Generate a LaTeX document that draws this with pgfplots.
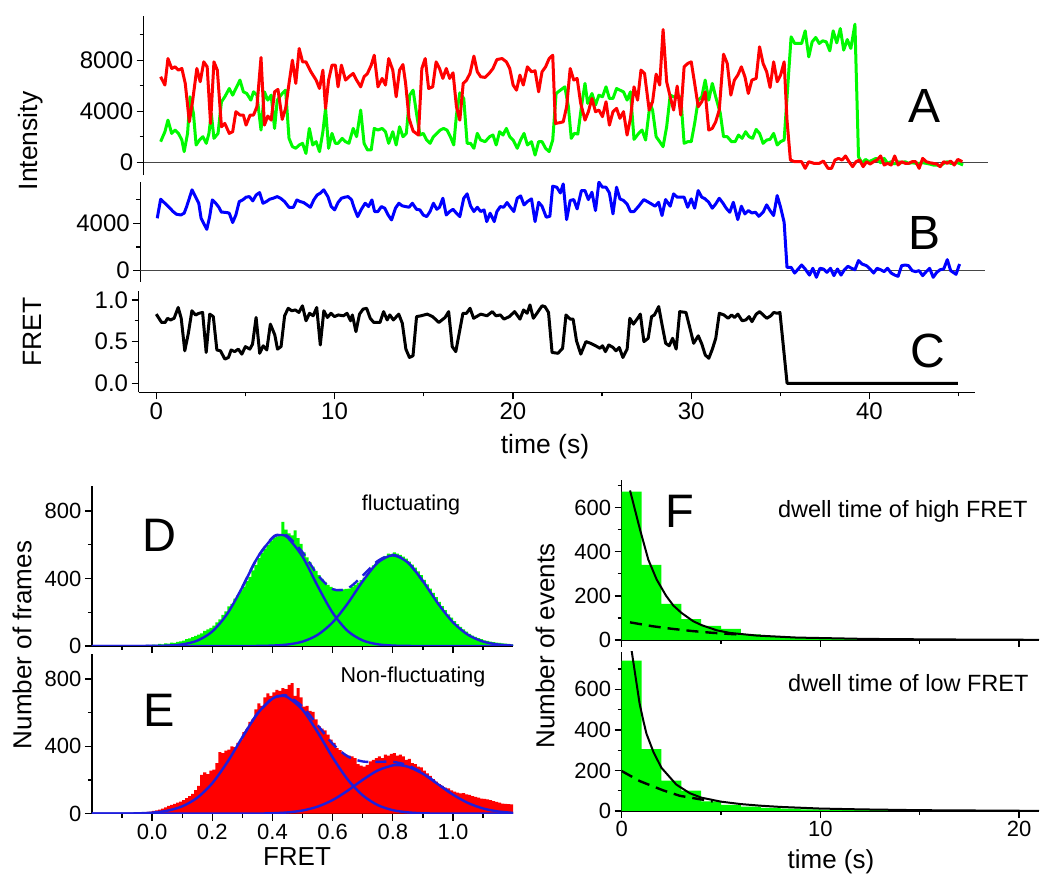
\documentclass[border=0pt]{standalone}
\usepackage{fontspec}
\setmainfont{Liberation Sans}
\usepackage{pgfplots}
\pgfplotsset{compat=1.18}
\definecolor{tgreen}{RGB}{0,250,0}
\definecolor{tred}{RGB}{255,0,0}
\definecolor{tblue}{RGB}{0,0,255}
\definecolor{gblue}{RGB}{30,30,220}
\definecolor{zline}{RGB}{70,70,70}
\pgfplotsset{
  panel/.style={
    scale only axis, anchor=south west,
    axis line style={line width=1.4pt, black},
    tick style={line width=1.3pt, black},
    major tick length=7pt, minor tick length=4pt,
    tick align=outside,
    tick label style={font=\fontsize{22}{26}\selectfont},
    /pgf/number format/assume math mode=true,
    /pgf/number format/1000 sep={},
    scaled ticks=false,
  },
  bigticks/.style={tick label style={font=\fontsize{24}{28}\selectfont}},
  trace/.style={line width=3pt, line join=round},
}
\begin{document}
\begin{tikzpicture}[x=1pt,y=1pt]
\useasboundingbox (0,0) rectangle (1050,885);

% ---------------- A: donor / acceptor intensity
\begin{axis}[panel, bigticks, at={(143.7pt,709.9pt)}, width=844.6pt, height=159.4pt,
  xmin=-0.70, xmax=46.67, ymin=-1000, ymax=11500,
  axis y line*=left, axis x line=none,
  ytick={0,4000,8000}, minor ytick={2000,6000,10000}]
\addplot[zline, line width=1.1pt] coordinates {(-0.70,0) (46.67,0)};
\addplot[trace, tgreen] coordinates {
(0.25,1620) (0.49,2400) (0.66,3310) (0.87,2270) (1.06,2530) (1.25,2270) (1.44,1750) (1.57,840) (1.76,2270) (1.90,5140)
(2.09,3840) (2.24,1360) (2.43,1750) (2.62,2010) (2.81,1490) (2.96,2270) (3.09,3840) (3.24,1880) (3.47,2270) (3.66,4750)
(3.85,5140) (4.10,5790) (4.29,5270) (4.47,5790) (4.70,6450) (4.89,5530) (5.08,5400) (5.31,4880) (5.46,5530) (5.65,5270)
(5.88,2530) (6.07,5530) (6.26,4880) (6.45,5270) (6.64,2660) (6.79,4880) (7.07,5400) (7.26,5660) (7.45,1880) (7.64,1230)
(7.83,1100) (8.02,1360) (8.21,1490) (8.40,700) (8.59,2660) (8.78,1360) (8.97,1620) (9.16,840) (9.35,2400) (9.50,4230)
(9.67,1100) (9.86,2270) (10.05,1490) (10.20,1490) (10.43,1880) (10.62,1620) (10.81,1490) (11.05,2660) (11.24,2010) (11.47,4100)
(11.66,1490) (11.85,970) (12.06,970) (12.23,2660) (12.44,2530) (12.67,2660) (12.86,2400) (13.04,1490) (13.27,2400) (13.46,1360)
(13.65,2790) (13.84,2010) (14.03,2270) (14.22,5270) (14.41,5660) (14.60,3840) (14.79,2140) (14.98,2270) (15.17,1750) (15.36,1490)
(15.55,2010) (15.74,2270) (15.93,2530) (16.12,2660) (16.31,2530) (16.50,2010) (16.69,1360) (16.84,3710) (17.03,5450) (17.25,5010)
(17.44,1490) (17.63,1490) (17.82,1100) (18.01,2270) (18.20,1750) (18.45,1620) (18.70,2010) (18.89,2140) (19.07,1360) (19.26,2400)
(19.45,2140) (19.64,2660) (19.83,2010) (20.02,1750) (20.25,1100) (20.44,1750) (20.63,2270) (20.82,1360)
(21.05,1620) (21.25,570) (21.45,1620) (21.64,1620) (21.84,1100) (22.04,840) (22.24,1750) (22.43,5400) (22.67,5660) (22.92,5920)
(23.12,4360) (23.28,1880) (23.45,2270) (23.65,2220) (23.85,4360) (24.05,6190) (24.20,4620) (24.44,5400) (24.64,4490) (24.83,5270)
(25.03,5140) (25.23,5920) (25.42,5010) (25.62,5010) (25.82,5790) (26.01,5660) (26.21,5530) (26.41,4880) (26.60,5530) (26.80,1800)
(27.06,2270) (27.25,2530) (27.45,1750) (27.70,4620) (27.84,4100) (28.04,2010) (28.24,1620) (28.43,1230) (28.63,2790) (28.83,5270)
(29.02,5140) (29.22,5090) (29.42,5140) (29.61,1490) (29.81,1620) (30.01,1620) (30.20,3050) (30.40,4880) (30.60,5140) (30.79,6450)
(30.99,4880) (31.19,6190) (31.38,5140) (31.64,3840) (31.82,2010) (32.03,2010) (32.27,1620) (32.47,1620) (32.66,2140) (32.86,1880)
(33.06,2400) (33.25,2010) (33.45,1880) (33.65,2580) (33.84,2270) (34.04,1490) (34.24,1750) (34.43,1800) (34.63,2270) (34.83,1360)
(35.02,1620) (35.22,1750) (35.61,9840) (35.81,9320) (36.01,9320) (36.20,9320) (36.40,10310) (36.60,8270) (36.79,9450) (36.99,9790)
(37.19,9320) (37.38,9530) (37.58,9450) (37.78,8740) (37.97,10310) (38.17,9370) (38.37,10490) (38.56,8800) (38.76,9630) (38.96,8930)
(39.19,10830) (39.39,440) (39.59,-80) (39.78,230) (39.98,50) (40.18,180) (40.37,310) (40.63,-30) (40.83,310) (41.02,-80)
(41.22,50) (41.42,-130) (41.61,50) (41.81,-30) (42.01,50) (42.20,-80) (42.40,-30) (42.60,-80) (42.79,-80) (42.99,-30)
(43.19,-80) (43.38,-130) (43.58,-210) (43.78,-210) (43.97,-290) (44.17,-80) (44.37,50) (44.56,-80) (44.76,-80) (44.96,-30) (45.25,-210)
};
\addplot[trace, tred] coordinates {
(0.25,6710) (0.49,6060) (0.66,8140) (0.87,7360) (1.06,7490) (1.25,7230) (1.44,7360) (1.63,6190) (1.86,3180) (2.05,4880)
(2.28,7360) (2.47,6320) (2.67,7880) (2.86,7490) (3.05,3050) (3.24,7880) (3.43,7230) (3.66,2790) (3.85,3050) (4.10,2270)
(4.29,2400) (4.47,3970) (4.70,3710) (4.89,3710) (5.04,2920) (5.27,3710) (5.46,3710) (5.65,4360) (5.88,8220) (6.07,2920)
(6.26,3630) (6.45,3310) (6.64,5530) (6.83,5720) (7.07,3370) (7.26,4230) (7.45,6190) (7.64,8010) (7.83,6190) (8.02,8930)
(8.21,7880) (8.40,7880) (8.68,7100) (8.97,6450) (9.16,5790) (9.35,7230) (9.50,4230) (9.67,6450) (9.86,7620) (10.05,7620)
(10.20,5920) (10.39,7620) (10.62,6450) (10.81,6710) (11.05,6970) (11.24,6450) (11.47,5920) (11.66,6710) (11.85,6970) (12.06,7620)
(12.23,8400) (12.44,5920) (12.67,6580) (12.86,6060) (13.04,8140) (13.27,7230) (13.46,5140) (13.65,7230) (13.84,7670) (13.99,6190)
(14.18,3450) (14.41,2450) (14.71,2140) (14.90,7360) (15.09,8140) (15.28,5790) (15.51,5920) (15.70,7880) (15.89,7360) (16.08,6580)
(16.27,7360) (16.46,6580) (16.65,7020) (16.84,4360) (17.03,3310) (17.22,6190) (17.41,6450) (17.60,6970) (17.82,8330) (18.01,7100)
(18.20,6710) (18.45,6660) (18.70,7020) (18.89,7360) (19.11,8060) (19.40,8140) (19.64,7880) (19.83,7360) (20.02,6060) (20.21,5660)
(20.40,6840) (20.59,6060) (20.82,7490)
(21.05,7100) (21.25,7180) (21.45,5530) (21.64,7100) (21.84,7490) (22.04,8140) (22.24,8400) (22.39,3050) (22.63,3110) (22.83,3180)
(23.02,4360) (23.22,7360) (23.42,6450) (23.61,6580) (23.81,4620) (24.05,3310) (24.24,3970) (24.44,5010) (24.64,3970) (24.83,4100)
(25.03,3580) (25.23,4750) (25.42,2920) (25.62,3970) (25.82,4230) (26.01,3450) (26.21,3970) (26.41,2140) (26.60,3450) (26.80,5920)
(27.00,4880) (27.19,7230) (27.39,6970) (27.65,4100) (27.84,4750) (28.04,6920) (28.24,6060) (28.43,10410) (28.63,6320) (28.83,5140)
(29.02,4100) (29.22,5980) (29.42,3710) (29.61,7490) (29.81,7750) (30.01,7880) (30.20,6190) (30.40,4360) (30.60,4750) (30.79,5530)
(30.99,2530) (31.19,2660) (31.38,3180) (31.58,4100) (31.82,8480) (32.03,7750) (32.23,5270) (32.43,6450) (32.62,6840) (32.82,7490)
(33.02,6710) (33.21,5400) (33.41,6450) (33.65,6580) (33.84,9060) (34.04,7750) (34.24,7100) (34.43,5870) (34.63,7880) (34.83,6320)
(35.02,6840) (35.22,7880) (35.38,3310) (35.57,180) (35.81,50) (36.20,50) (36.40,-470) (36.60,50) (36.89,-80) (37.19,-80)
(37.42,100) (37.68,-470) (37.88,-470) (38.07,180) (38.27,310) (38.47,180) (38.66,500) (38.86,50) (39.06,-340) (39.25,50)
(39.45,180) (39.65,-340) (39.84,50) (40.04,-130) (40.24,50) (40.43,180) (40.63,500) (40.83,-210) (41.02,-80) (41.22,-210)
(41.42,500) (41.61,-210) (41.81,50) (42.01,-80) (42.20,-80) (42.40,50) (42.60,50) (42.79,-470) (42.99,310) (43.19,50)
(43.38,-30) (43.58,-80) (43.78,-130) (43.97,-340) (44.17,50) (44.37,-80) (44.56,100) (44.76,-210) (44.96,230) (45.21,50)
};
\end{axis}

% ---------------- B: total intensity
\begin{axis}[panel, bigticks, at={(140.3pt,603.3pt)}, width=844.6pt, height=99.9pt,
  xmin=-0.89, xmax=46.48, ymin=-930, ymax=7500,
  axis y line*=left, axis x line=none,
  ytick={0,4000}, minor ytick={2000,6000}]
\addplot[zline, line width=1.1pt] coordinates {(-0.89,0) (46.48,0)};
\addplot[trace, tblue] coordinates {
(0.06,4420) (0.25,6030) (0.49,5690) (0.72,5350) (0.95,4990) (1.14,4760) (1.38,4700) (1.57,4850) (1.71,5410) (1.86,6110)
(2.01,6820) (2.20,6250) (2.39,5690) (2.52,4420) (2.71,3860) (2.84,3490) (3.00,4560) (3.15,5970) (3.34,5690) (3.53,5320)
(3.66,4930) (3.79,4930) (3.98,4900) (4.10,4850) (4.29,4060) (4.47,4700) (4.66,5830) (4.85,5970) (5.04,6200) (5.23,6250)
(5.42,5890) (5.61,6390) (5.80,6590) (5.99,5690) (6.18,5830) (6.37,6030) (6.56,6110) (6.79,6250) (6.98,6110) (7.20,5830)
(7.45,5350) (7.70,5350) (7.89,5970) (8.08,5830) (8.27,5750) (8.46,5550) (8.65,5350) (8.84,5970) (9.03,6390) (9.21,6540)
(9.40,6820) (9.63,6250) (9.82,5410) (10.01,5130) (10.20,5750) (10.39,6110) (10.58,6200) (10.77,6250) (10.96,5970) (11.11,5270)
(11.30,4560) (11.49,5130) (11.72,5690) (11.91,5410) (12.10,5970) (12.25,4990) (12.44,4990) (12.63,5410) (12.82,5270) (13.01,4700)
(13.20,4280) (13.42,5270) (13.61,5690) (13.80,5470) (13.99,5410) (14.18,5350) (14.37,5690) (14.60,5180) (14.79,5130) (14.98,4700)
(15.17,4560) (15.36,4990) (15.55,5690) (15.74,5180) (15.89,5350) (16.08,6110) (16.27,4700) (16.46,4990) (16.65,5180) (16.84,4850)
(17.03,4560) (17.25,6110) (17.44,6480) (17.63,5470) (17.82,4990) (18.01,5350) (18.20,4990) (18.39,5130) (18.54,4140) (18.73,4850)
(18.96,4140) (19.11,4990) (19.30,5410) (19.49,5350) (19.68,5750) (19.87,5350) (20.06,4990) (20.25,6110) (20.44,6310) (20.63,5550)
(20.82,5830)
(21.05,6060) (21.25,4140) (21.45,5770) (21.64,5440) (21.88,4510) (22.08,4590) (22.24,7130) (22.47,7040) (22.67,6560) (22.83,7320)
(23.02,4310) (23.22,5920) (23.42,6000) (23.61,5210) (23.85,6760) (24.05,6760) (24.24,6000) (24.44,6620) (24.64,5070) (24.83,7470)
(25.03,7040) (25.23,7040) (25.42,6560) (25.62,4790) (25.82,7040) (26.01,6060) (26.21,5920) (26.41,5630) (26.60,4990) (26.80,4990)
(27.06,5440) (27.35,6000) (27.55,5830) (27.78,5630) (27.98,5440) (28.18,5770) (28.37,4650) (28.57,6000) (28.83,5440) (29.02,6480)
(29.22,6200) (29.42,6200) (29.61,6200) (29.81,5350) (30.01,6060) (30.20,5270) (30.40,6760) (30.60,6200) (30.79,6060) (30.99,5770)
(31.19,5270) (31.38,5630) (31.58,6110) (31.78,5720) (31.97,5270) (32.17,4930) (32.37,5770) (32.62,4310) (32.82,5440) (33.02,4790)
(33.21,5070) (33.41,4870) (33.61,4930) (33.80,4590) (34.04,4930) (34.24,5550) (34.43,5070) (34.63,4650) (34.83,6340) (35.02,5350)
(35.22,4080) (35.38,280) (35.61,280) (35.81,-200) (36.01,140) (36.20,480) (36.40,140) (36.64,-370) (36.83,200) (37.03,-560)
(37.23,200) (37.42,140) (37.62,-140) (37.82,200) (38.01,-420) (38.21,140) (38.41,-370) (38.60,80) (38.80,370) (39.00,200)
(39.19,80) (39.39,850) (39.59,560) (39.84,420) (40.04,140) (40.24,-200) (40.43,200) (40.63,80) (40.83,-80) (41.02,200)
(41.22,-200) (41.42,-370) (41.61,-480) (41.81,420) (42.01,480) (42.20,420) (42.40,0) (42.60,-80) (42.79,0) (42.99,-420)
(43.19,-80) (43.38,200) (43.58,-560) (43.78,-140) (43.97,80) (44.17,140) (44.37,930) (44.56,0) (44.76,-200) (44.86,-310) (45.06,560)
};
\end{axis}

% ---------------- C: FRET trace
\begin{axis}[panel, bigticks, at={(138.6pt,492.7pt)}, width=836.4pt, height=101.5pt,
  xmin=-0.99, xmax=45.92, ymin=-0.108, ymax=1.11,
  axis lines*=left,
  xtick={0,10,20,30,40}, minor xtick={5,15,25,35,45},
  ytick={0,0.5,1}, minor ytick={0.25,0.75},
  yticklabel style={/pgf/number format/.cd, fixed, fixed zerofill, precision=1}]
\addplot[trace, black] coordinates {
(0,0.83) (0.15,0.78) (0.3,0.73) (0.5,0.73) (0.63,0.78) (0.8,0.76) (1.0,0.78) (1.23,0.91) (1.4,0.78) (1.6,0.39)
(1.8,0.6) (2.0,0.87) (2.2,0.82) (2.4,0.84) (2.6,0.85) (2.8,0.37) (3.0,0.83) (3.2,0.8) (3.4,0.4) (3.6,0.39)
(3.85,0.29) (4.05,0.31) (4.2,0.4) (4.4,0.38) (4.6,0.41) (4.8,0.35) (5.0,0.44) (5.25,0.41) (5.4,0.47) (5.6,0.79)
(5.8,0.36) (6.0,0.45) (6.2,0.4) (6.4,0.71) (6.65,0.58) (6.8,0.41) (7.0,0.44) (7.2,0.81) (7.4,0.9) (7.6,0.87)
(7.8,0.88) (8.0,0.85) (8.2,0.93) (8.4,0.75) (8.6,0.84) (8.8,0.81) (9.0,0.91) (9.2,0.46) (9.4,0.87) (9.6,0.79)
(9.8,0.84) (10.0,0.8) (10.2,0.82) (10.5,0.81) (10.7,0.84) (10.9,0.75) (11.0,0.82) (11.2,0.62) (11.4,0.83) (11.6,0.89)
(11.8,0.9) (12.0,0.78) (12.2,0.73) (12.55,0.73) (12.75,0.86) (12.95,0.76) (13.1,0.82) (13.3,0.76) (13.6,0.83) (13.8,0.72)
(14.0,0.41) (14.2,0.31) (14.4,0.33) (14.6,0.8) (14.85,0.81) (15.2,0.83) (15.5,0.8) (15.85,0.73) (16.2,0.79) (16.4,0.86)
(16.6,0.44) (16.8,0.38) (17.2,0.84) (17.4,0.84) (17.6,0.9) (17.8,0.78) (18.2,0.83) (18.55,0.81) (18.85,0.86) (19.05,0.81)
(19.3,0.82) (19.5,0.77) (19.8,0.8) (20.1,0.86) (20.4,0.77) (20.6,0.88) (20.8,0.84)
(20.96,0.94) (21.15,0.78) (21.35,0.84) (21.64,0.93) (21.80,0.92) (22.00,0.85) (22.20,0.37) (22.53,0.36) (22.79,0.42) (22.98,0.82)
(23.22,0.77) (23.38,0.77) (23.57,0.51) (23.81,0.35) (24.10,0.50) (24.36,0.48) (24.64,0.45) (24.89,0.42) (25.03,0.45) (25.19,0.38)
(25.38,0.46) (25.62,0.43) (25.78,0.39) (25.97,0.43) (26.17,0.31) (26.41,0.41) (26.56,0.78) (26.76,0.71) (27.00,0.78) (27.15,0.83)
(27.35,0.50) (27.59,0.54) (27.78,0.80) (27.94,0.82) (28.18,0.92) (28.37,0.70) (28.57,0.48) (28.77,0.45) (28.96,0.54) (29.16,0.41)
(29.36,0.86) (29.71,0.85) (29.91,0.68) (30.14,0.48) (30.40,0.57) (30.60,0.47) (30.79,0.34) (30.99,0.30) (31.19,0.41) (31.38,0.54)
(31.58,0.84) (31.84,0.82) (32.07,0.78) (32.27,0.82) (32.43,0.79) (32.62,0.83) (32.86,0.75) (33.06,0.76) (33.25,0.80) (33.41,0.74)
(33.65,0.83) (33.84,0.86) (34.04,0.82) (34.24,0.78) (34.47,0.81) (34.63,0.85) (34.83,0.84) (34.98,0.85) (35.38,0.0) (44.96,0.0)
};
\end{axis}

% ---------------- D: histogram, fluctuating
\begin{axis}[panel, at={(91.9pt,239pt)}, width=421.3pt, height=160.3pt,
  xmin=-0.2, xmax=1.2, ymin=0, ymax=950,
  axis lines*=left,
  xtick={0,0.2,0.4,0.6,0.8,1.0}, minor xtick={-0.1,0.1,0.3,0.5,0.7,0.9,1.1}, xticklabels={},
  ytick={0,400,800}, minor ytick={200,600}]
\addplot[const plot, fill=tgreen, draw=none] coordinates {
(-0.20,0) (-0.11,0) (-0.10,2) (-0.09,0) (-0.08,3) (-0.07,2) (-0.06,4) (-0.05,3) (-0.04,5) (-0.03,4) (-0.02,6) (-0.01,5)
(0.00,8) (0.01,7) (0.02,12) (0.03,10) (0.04,15) (0.05,14) (0.06,20) (0.07,18) (0.08,25) (0.09,28)
(0.10,32) (0.11,40) (0.12,45) (0.13,52) (0.14,60) (0.15,68) (0.16,75) (0.17,90) (0.18,98) (0.19,108)
(0.20,120) (0.21,140) (0.22,158) (0.23,185) (0.24,205) (0.25,235) (0.26,250) (0.27,280) (0.28,300) (0.29,330)
(0.30,352) (0.31,385) (0.32,410) (0.33,448) (0.34,480) (0.35,520) (0.36,552) (0.37,575) (0.38,600) (0.39,622)
(0.40,640) (0.41,650) (0.42,655) (0.43,735) (0.44,690) (0.45,668) (0.46,655) (0.47,685) (0.48,640) (0.49,605)
(0.50,555) (0.51,525) (0.52,495) (0.53,470) (0.54,445) (0.55,420) (0.56,398) (0.57,380) (0.58,362) (0.59,350)
(0.60,340) (0.61,335) (0.62,338) (0.63,335) (0.64,338) (0.65,340) (0.66,350) (0.67,362) (0.68,375) (0.69,390)
(0.70,405) (0.71,425) (0.72,448) (0.73,478) (0.74,492) (0.75,505) (0.76,518) (0.77,532) (0.78,548) (0.79,545)
(0.80,555) (0.81,548) (0.82,540) (0.83,530) (0.84,518) (0.85,500) (0.86,482) (0.87,465) (0.88,442) (0.89,420)
(0.90,392) (0.91,365) (0.92,340) (0.93,315) (0.94,290) (0.95,262) (0.96,236) (0.97,212) (0.98,188) (0.99,168)
(1.00,148) (1.01,130) (1.02,114) (1.03,98) (1.04,85) (1.05,72) (1.06,62) (1.07,54) (1.08,46) (1.09,40)
(1.10,34) (1.11,30) (1.12,26) (1.13,23) (1.14,20) (1.15,18) (1.16,15) (1.17,14) (1.18,12) (1.19,10) (1.20,10)
} \closedcycle;
\addplot[gblue, line width=2.4pt, smooth, dash pattern=on 11pt off 7pt] coordinates {
(0.3,349) (0.35,524) (0.4,643) (0.425,660) (0.45,652) (0.5,555) (0.55,422) (0.6,337) (0.65,341) (0.7,417)
(0.75,504) (0.8,540) (0.85,495) (0.9,384)};
\addplot[gblue, line width=2.4pt, smooth] coordinates {
(-0.2,0) (-0.1,0) (-0.05,0.1) (0,0.5) (0.05,2.3) (0.1,9.5) (0.15,31.6) (0.2,86) (0.25,191) (0.3,349)
(0.35,523) (0.4,640) (0.425,658) (0.45,643) (0.5,529) (0.55,356) (0.6,197) (0.65,89) (0.7,33) (0.75,10)
(0.8,2.5) (0.85,0.5) (0.9,0) (1.2,0)};
\addplot[gblue, line width=2.4pt, smooth] coordinates {
(-0.2,0) (0.3,0.1) (0.35,0.6) (0.4,2.5) (0.45,8.8) (0.5,26) (0.55,66) (0.6,140) (0.65,252) (0.7,384)
(0.75,494) (0.8,537) (0.85,494) (0.9,384) (0.95,252) (1.0,140) (1.05,66) (1.1,26) (1.15,8.8) (1.2,2.5)};
\end{axis}

% ---------------- E: histogram, non-fluctuating
\begin{axis}[panel, at={(91.9pt,71.3pt)}, width=421.3pt, height=160pt,
  xmin=-0.2, xmax=1.2, ymin=0, ymax=950,
  axis lines*=left,
  xtick={0,0.2,0.4,0.6,0.8,1.0}, minor xtick={-0.1,0.1,0.3,0.5,0.7,0.9,1.1},
  xticklabel style={/pgf/number format/.cd, fixed, fixed zerofill, precision=1},
  ytick={0,400,800}, minor ytick={200,600}]
\addplot[const plot, fill=tred, draw=none] coordinates {
(-0.20,0) (-0.11,0) (-0.10,1) (-0.09,2) (-0.08,3) (-0.07,4) (-0.06,5) (-0.05,6) (-0.04,8) (-0.03,9) (-0.02,11) (-0.01,13)
(0.00,16) (0.01,20) (0.02,24) (0.03,30) (0.04,38) (0.05,46) (0.06,52) (0.07,58) (0.08,66) (0.09,72)
(0.10,80) (0.11,92) (0.12,105) (0.13,118) (0.14,140) (0.15,165) (0.16,230) (0.17,245) (0.18,235) (0.19,255)
(0.20,262) (0.21,300) (0.22,365) (0.23,360) (0.24,375) (0.25,380) (0.26,400) (0.27,395) (0.28,420) (0.29,440)
(0.30,485) (0.31,500) (0.32,545) (0.33,560) (0.34,620) (0.35,655) (0.36,640) (0.37,690) (0.38,715) (0.39,700)
(0.40,720) (0.41,735) (0.42,730) (0.43,745) (0.44,740) (0.45,765) (0.46,775) (0.47,700) (0.48,745) (0.49,690)
(0.50,636) (0.51,640) (0.52,610) (0.53,605) (0.54,560) (0.55,520) (0.56,505) (0.57,495) (0.58,470) (0.59,440)
(0.60,420) (0.61,390) (0.62,378) (0.63,360) (0.64,350) (0.65,345) (0.66,340) (0.67,330) (0.68,295) (0.69,285)
(0.70,280) (0.71,290) (0.72,310) (0.73,320) (0.74,330) (0.75,340) (0.76,330) (0.77,350) (0.78,345) (0.79,355)
(0.80,360) (0.81,345) (0.82,350) (0.83,340) (0.84,320) (0.85,325) (0.86,300) (0.87,295) (0.88,280) (0.89,275)
(0.90,255) (0.91,240) (0.92,225) (0.93,205) (0.94,190) (0.95,175) (0.96,165) (0.97,155) (0.98,150) (0.99,138)
(1.00,131) (1.01,125) (1.02,120) (1.03,122) (1.04,115) (1.05,112) (1.06,105) (1.07,100) (1.08,95) (1.09,90)
(1.10,88) (1.11,85) (1.12,80) (1.13,75) (1.14,70) (1.15,66) (1.16,60) (1.17,58) (1.18,57) (1.19,55) (1.20,55)
} \closedcycle;
\addplot[gblue, line width=2.4pt, smooth, dash pattern=on 11pt off 7pt] coordinates {
(0.3,454) (0.35,595) (0.4,686) (0.43,701) (0.45,700) (0.5,636) (0.55,526) (0.6,415) (0.65,340) (0.7,310)
(0.75,308) (0.8,308) (0.85,287) (0.9,240) (0.95,176) (1.0,113)};
\addplot[gblue, line width=2.4pt, smooth] coordinates {
(-0.2,0) (-0.1,0.5) (-0.05,2) (0,6.2) (0.05,17.5) (0.1,43.5) (0.15,94.6) (0.2,181) (0.25,306) (0.3,454)
(0.35,594) (0.4,683) (0.43,699) (0.45,692) (0.5,617) (0.55,484) (0.6,334) (0.65,203) (0.7,109) (0.75,51)
(0.8,21) (0.85,7.8) (0.9,2.5) (0.95,0.7) (1.0,0.2) (1.2,0)};
\addplot[gblue, line width=2.4pt, smooth] coordinates {
(-0.2,0) (0.3,0.2) (0.35,0.8) (0.4,2.6) (0.45,7.5) (0.5,19) (0.55,42) (0.6,81) (0.65,137) (0.7,201)
(0.75,257) (0.8,287) (0.815,289) (0.85,279) (0.9,237) (0.95,175) (1.0,113) (1.05,63.5) (1.1,31) (1.15,13.3) (1.2,4.9)};
\end{axis}

% ---------------- F upper: dwell time of high FRET
\begin{axis}[panel, at={(621.7pt,245pt)}, width=417.3pt, height=159.9pt,
  xmin=0, xmax=21, ymin=0, ymax=725,
  axis lines*=left,
  xtick={0,10,20}, minor xtick={5,15}, xticklabels={},
  ytick={0,200,400,600}, minor ytick={100,300,500,700}]
\addplot[const plot, fill=tgreen, draw=none] coordinates {
(0,673) (1,341) (2,164) (3,95) (4,64) (5,50) (6,25) (7,18) (8,12) (9,10) (10,8) (11,6) (12,5) (13,4)
(14,3) (15,3) (16,2) (17,2) (18,1) (19,1) (20,1) (21,1)} \closedcycle;
\addplot[black, line width=2.4pt, dash pattern=on 12pt off 7pt] coordinates {
(0.42,80) (1.5,63) (2.5,51) (3.5,41) (4.5,33) (5.5,27) (6.1,24)};
\addplot[black, line width=2pt] coordinates {
(0.42,678) (0.92,501) (1.34,364) (1.76,274) (2.23,201) (2.6,156) (3.02,122) (3.6,85) (4.03,67) (4.78,44)
(5.45,32) (6.8,20) (8.8,11) (12.2,5) (16,2.5) (20.5,1) (21,1)};
\end{axis}

% ---------------- F lower: dwell time of low FRET
\begin{axis}[panel, at={(621.7pt,74pt)}, width=417.3pt, height=159.2pt,
  xmin=0, xmax=21, ymin=0, ymax=785,
  axis lines*=left,
  xtick={0,10,20}, minor xtick={5,15},
  ytick={0,200,400,600}, minor ytick={100,300,500,700}]
\addplot[const plot, fill=tgreen, draw=none] coordinates {
(0,742) (1,305) (2,150) (3,100) (4,47) (5,30) (6,22) (7,15) (8,12) (9,8) (10,6) (11,5) (12,4) (13,4)
(14,8) (15,3) (16,2) (17,2) (18,1) (19,1) (20,1) (21,1)} \closedcycle;
\addplot[black, line width=2.4pt, dash pattern=on 12pt off 7pt] coordinates {
(0,197) (0.92,147) (2.08,102) (2.92,75) (4.58,47)};
\addplot[black, line width=2pt] coordinates {
(0.5,790) (0.7,660) (0.9,530) (1.1,440) (1.25,380) (1.6,290) (2.0,213) (2.75,130) (3.42,88) (4.0,66)
(5,46) (6,34) (7,26) (8,20) (10,12) (12,8) (15,4) (20,1.2) (21,1)};
\end{axis}

% ---------------- labels
\node[rotate=90, font=\fontsize{26.5}{30}\selectfont] at (31,744) {Intensity};
\node[rotate=90, font=\fontsize{26.5}{30}\selectfont] at (32,553) {FRET};
\node[font=\fontsize{26.5}{30}\selectfont] at (545,438) {time (s)};
\node[rotate=90, font=\fontsize{26}{30}\selectfont] at (22,240) {Number of frames};
\node[font=\fontsize{26}{30}\selectfont] at (297,28) {FRET};
\node[rotate=90, font=\fontsize{26}{30}\selectfont] at (545,239) {Number of events};
\node[font=\fontsize{26}{30}\selectfont] at (831,23) {time (s)};
\node[font=\fontsize{48}{52}\selectfont] at (924,779) {A};
\node[font=\fontsize{48}{52}\selectfont] at (924,651.5) {B};
\node[font=\fontsize{48}{52}\selectfont] at (928,534) {C};
\node[font=\fontsize{47}{52}\selectfont] at (159,350) {D};
\node[font=\fontsize{47}{52}\selectfont] at (159,175) {E};
\node[font=\fontsize{47}{52}\selectfont] at (680,374) {F};
\node[font=\fontsize{21.5}{25}\selectfont] at (411,380) {fluctuating};
\node[font=\fontsize{21.5}{25}\selectfont] at (413,208) {Non-fluctuating};
\node[anchor=east, font=\fontsize{23.5}{27}\selectfont] at (1031,374) {dwell time of high FRET};
\node[anchor=east, font=\fontsize{23.5}{27}\selectfont] at (1032,202) {dwell time of low FRET};
\end{tikzpicture}
\end{document}
